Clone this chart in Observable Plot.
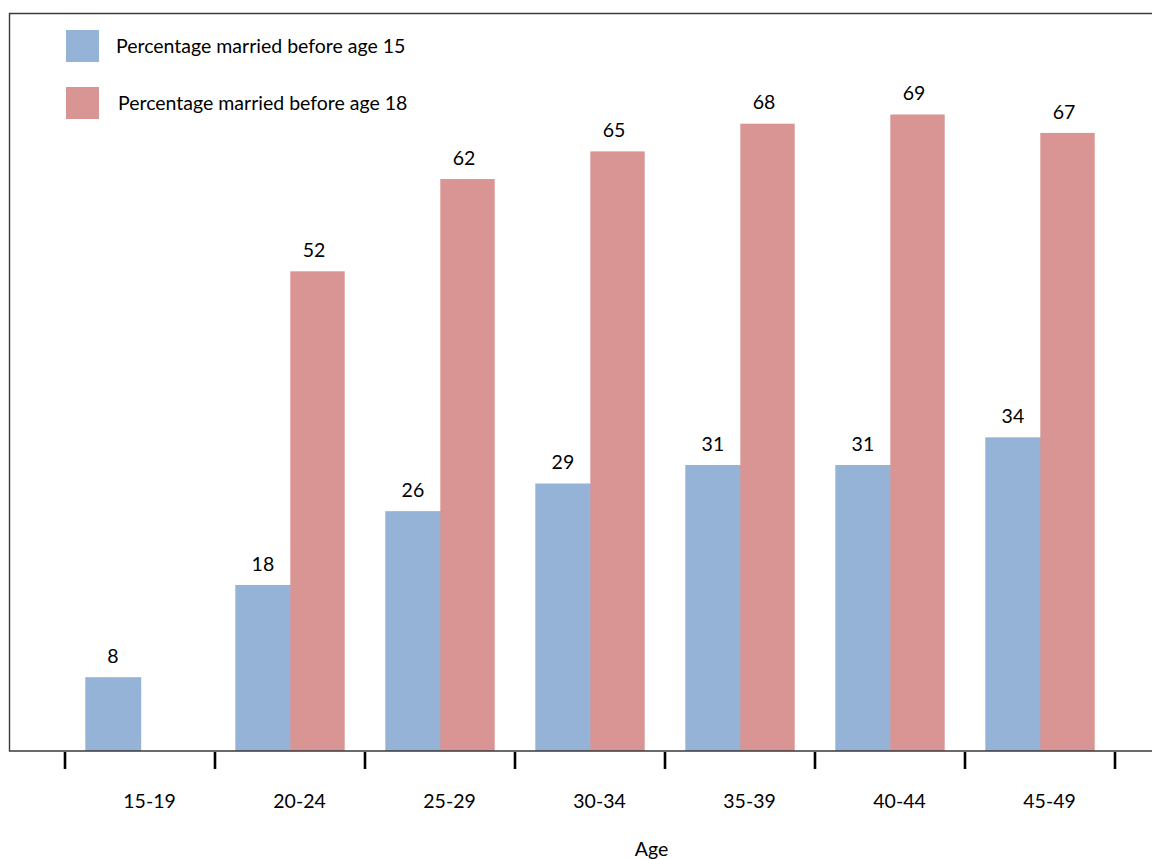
<!DOCTYPE html>
<html>
<head>
<meta charset="utf-8">
<script src="https://cdn.jsdelivr.net/npm/d3@7"></script>
<script src="https://cdn.jsdelivr.net/npm/@observablehq/plot@0.6"></script>
<style>
  html, body { margin: 0; padding: 0; background: #fff; }
  svg { display: block; }
</style>
</head>
<body>
<div id="chart"></div>
<script>
const ages = ["15-19", "20-24", "25-29", "30-34", "35-39", "40-44", "45-49"];
const seriesNames = ["Percentage married before age 15", "Percentage married before age 18"];
const before15 = [8, 18, 26, 29, 31, 31, 34];
const before18 = [null, 52, 62, 65, 68, 69, 67];
const seriesColors = ["#95b3d7", "#d99594"];
const xTitle = "Age";

const rows15 = ages.map((a, i) => ({age: a, series: seriesNames[0], value: before15[i]})).filter(d => d.value != null);
const rows18 = ages.map((a, i) => ({age: a, series: seriesNames[1], value: before18[i]})).filter(d => d.value != null);

const FONT = "Lato, 'Open Sans', sans-serif";
const FS = 19.5;
const inner = 20.3, outer = 75.3, half = 27.6;

const chart = Plot.plot({
  width: 1152,
  height: 859,
  marginLeft: 63,
  marginRight: 35,
  marginTop: 13,
  marginBottom: 108,
  x: {domain: ages, padding: 0},
  y: {domain: [0, 80], axis: null},
  color: {domain: seriesNames, range: seriesColors},
  style: {fontFamily: FONT, fontSize: FS + "px", color: "#000", background: "#fff"},
  marks: [
    Plot.barY(rows15, {x: "age", y: "value", fill: "series", insetLeft: inner, insetRight: outer - 1.5, shapeRendering: "auto"}),
    Plot.barY(rows18, {x: "age", y: "value", fill: "series", insetLeft: outer, insetRight: inner, shapeRendering: "auto"}),
    Plot.text(rows15, {x: "age", y: "value", text: d => String(d.value), dx: -half, dy: -21, fontSize: FS, fill: "#000"}),
    Plot.text(rows18, {x: "age", y: "value", text: d => String(d.value), dx: half - 4, dy: -21, fontSize: FS, fill: "#000"}),
    Plot.axisX({tickSize: 0, tickPadding: 43, dx: 9, fontSize: FS, label: null}),
    Plot.text([xTitle], {frameAnchor: "bottom", dx: 61, dy: 104, fontSize: FS, fill: "#000"})
  ]
});

const svgSel = d3.select(chart);
const xs = chart.scale("x");
const bw = xs.bandwidth;
const frameLeft = 9.5, frameTop = 13.5, frameRight = 1152, frameBottom = 751;

// frame: left and top border, baseline
svgSel.append("path")
  .attr("d", `M${frameRight},${frameTop}H${frameLeft}V${frameBottom}H${frameRight}`)
  .attr("fill", "none").attr("stroke", "#3a3a3a").attr("stroke-width", 1.4);

// category boundary ticks
const edges = ages.map(a => xs.apply(a)).concat([xs.apply(ages[ages.length - 1]) + bw]);
svgSel.append("g").selectAll("line").data(edges).join("line")
  .attr("x1", d => d).attr("x2", d => d)
  .attr("y1", frameBottom + 1).attr("y2", frameBottom + 18)
  .attr("stroke", "#000").attr("stroke-width", 2.6);

// legend inside plot
const lg = svgSel.append("g").attr("font-family", FONT).attr("font-size", FS).attr("text-anchor", "start");
const legendY = [30, 87];
seriesNames.forEach((name, i) => {
  lg.append("rect").attr("x", 66).attr("y", legendY[i]).attr("width", 33).attr("height", 32)
    .attr("fill", chart.scale("color").apply(name));
  lg.append("text").attr("x", 116 + i * 2).attr("y", legendY[i] + 16).attr("dy", "0.35em")
    .attr("text-anchor", "start").attr("fill", "#000").text(name);
});

document.getElementById("chart").appendChild(chart);
</script>
</body>
</html>
